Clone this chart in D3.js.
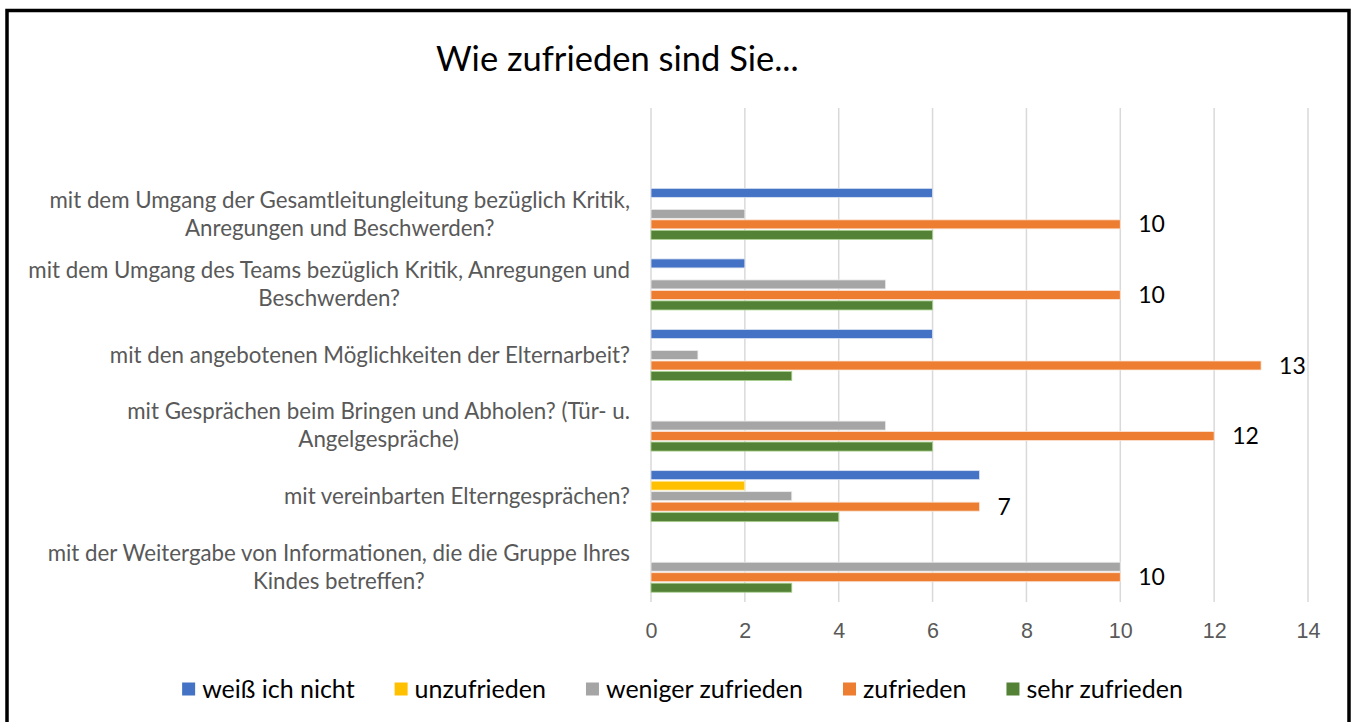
<!DOCTYPE html>
<html>
<head>
<meta charset="utf-8">
<script src="https://cdn.jsdelivr.net/npm/d3@7"></script>
<style>
  body { margin: 0; background: #fff; }
  svg { display: block; font-family: Lato, "Open Sans", sans-serif; }
</style>
</head>
<body>
<svg id="chart" width="1351" height="722"></svg>
<script>
var categories = [
    "mit dem Umgang der Gesamtleitungleitung bezüglich Kritik,|Anregungen und Beschwerden?",
    "mit dem Umgang des Teams bezüglich Kritik, Anregungen und|Beschwerden?",
    "mit den angebotenen Möglichkeiten der Elternarbeit?",
    "mit Gesprächen beim Bringen und Abholen? (Tür- u.|Angelgespräche)",
    "mit vereinbarten Elterngesprächen?",
    "mit der Weitergabe von Informationen, die die Gruppe Ihres|Kindes betreffen?"
];
var seriesNames = [ "weiß ich nicht", "unzufrieden", "weniger zufrieden", "zufrieden", "sehr zufrieden" ];
var seriesColors = [ "#4472c4", "#ffc000", "#a5a5a5", "#ed7d31", "#538135" ];
var seriesStroke = [ "#dae3f3", "#fff2cc", "#ededed", "#fbe5d6", "#a9d18e" ];

// one array per series, in category order
var weissNicht = [ 6, 2, 6, 0, 7, 0 ];
var unzufrieden = [ 0, 0, 0, 0, 2, 0 ];
var wenigerZufrieden = [ 2, 5, 1, 5, 3, 10 ];
var zufrieden = [ 10, 10, 13, 12, 7, 10 ];
var sehrZufrieden = [ 6, 6, 3, 6, 4, 3 ];

var xTicks = [ 0, 2, 4, 6, 8, 10, 12, 14 ];
var labelledSeries = "zufrieden";

var values = [ weissNicht, unzufrieden, wenigerZufrieden, zufrieden, sehrZufrieden ];

var svg = d3.select( "#chart" );
var plot = { left: 651, right: 1308, top: 108, bottom: 602 };
var catBand = ( plot.bottom - plot.top ) / ( categories.length + 1 );

var x = d3.scaleLinear().domain( [ 0, 14 ] ).range( [ plot.left, plot.right ] );
var y = d3.scaleBand().domain( categories ).range( [ plot.top + catBand, plot.bottom ] );
var inner = d3.scaleBand().domain( seriesNames ).range( [ -26.25, 26.25 ] );

// outer frame
svg.append( "rect" )
    .attr( "x", 7 ).attr( "y", 10.5 )
    .attr( "width", 1342 ).attr( "height", 800 )
    .attr( "fill", "none" ).attr( "stroke", "#000" ).attr( "stroke-width", 3.5 );

// title
svg.append( "text" )
    .attr( "x", 436 ).attr( "y", 71 )
    .attr( "font-size", 34.5 ).attr( "fill", "#000" )
    .text( "Wie zufrieden sind Sie..." );

// gridlines
svg.append( "g" ).selectAll( "line" )
    .data( xTicks ).enter().append( "line" )
    .attr( "x1", function( d ) { return x( d ); } )
    .attr( "x2", function( d ) { return x( d ); } )
    .attr( "y1", plot.top ).attr( "y2", plot.bottom )
    .attr( "stroke", "#d9d9d9" ).attr( "stroke-width", 1.5 );

// x axis labels
var xAxis = d3.axisBottom( x ).tickValues( xTicks ).tickSize( 0 ).tickPadding( 21 );
var xg = svg.append( "g" ).attr( "transform", "translate(0," + plot.bottom + ")" ).call( xAxis );
xg.select( ".domain" ).remove();
xg.selectAll( "text" ).attr( "font-size", 21.5 ).attr( "fill", "#595959" ).attr( "font-family", null );

// bars
var groups = svg.append( "g" ).selectAll( "g" )
    .data( seriesNames ).enter().append( "g" );

groups.each( function( name, s ) {
    var g = d3.select( this );
    var rows = categories.map( function( c, i ) { return { cat: c, v: values[ s ][ i ] }; } )
        .filter( function( r ) { return r.v > 0; } );

    g.selectAll( "rect" ).data( rows ).enter().append( "rect" )
        .attr( "x", x( 0 ) )
        .attr( "y", function( r ) { return y( r.cat ) + y.bandwidth() / 2 + inner( name ) + 0.75; } )
        .attr( "width", function( r ) { return x( r.v ) - x( 0 ); } )
        .attr( "height", inner.bandwidth() - 1.5 )
        .attr( "fill", seriesColors[ s ] )
        .attr( "stroke", seriesStroke[ s ] ).attr( "stroke-width", 0.8 );

    if ( name === labelledSeries ) {
        g.selectAll( "text" ).data( rows ).enter().append( "text" )
            .attr( "x", function( r ) { return x( r.v ) + 18; } )
            .attr( "y", function( r ) { return y( r.cat ) + y.bandwidth() / 2 + inner( name ) + inner.bandwidth() / 2; } )
            .attr( "dy", "0.35em" )
            .attr( "font-size", 23 ).attr( "fill", "#000" )
            .text( function( r ) { return r.v; } );
    }
});

// category labels: block right aligned, lines centred inside the block
var labelRight = 630, lineH = 28;
categories.forEach( function( c ) {
    var lines = c.split( "|" );
    var cy = y( c ) + y.bandwidth() / 2;
    var t = svg.append( "g" );
    var nodes = lines.map( function( line, i ) {
        return t.append( "text" )
            .attr( "y", cy + ( i - ( lines.length - 1 ) / 2 ) * lineH )
            .attr( "dy", "0.35em" )
            .attr( "font-size", 22.3 ).attr( "fill", "#595959" )
            .attr( "text-anchor", "middle" )
            .text( line );
    });
    var w = d3.max( nodes, function( n ) { return n.node().getComputedTextLength(); } );
    nodes.forEach( function( n ) { n.attr( "x", labelRight - w / 2 ); } );
});

// legend
var legend = svg.append( "g" );
var lx = 0;
seriesNames.forEach( function( name, s ) {
    var item = legend.append( "g" ).attr( "transform", "translate(" + lx + ",0)" );
    item.append( "rect" )
        .attr( "x", 0 ).attr( "y", -6.5 ).attr( "width", 13 ).attr( "height", 13 )
        .attr( "fill", seriesColors[ s ] );
    var txt = item.append( "text" )
        .attr( "x", 20 ).attr( "dy", "0.35em" )
        .attr( "font-size", 25 ).attr( "fill", "#000" )
        .text( name );
    lx += 20 + txt.node().getComputedTextLength() + 40;
});
var legendW = lx - 40;
legend.attr( "transform", "translate(" + ( 682.5 - legendW / 2 ) + ",689)" );
</script>
</body>
</html>
